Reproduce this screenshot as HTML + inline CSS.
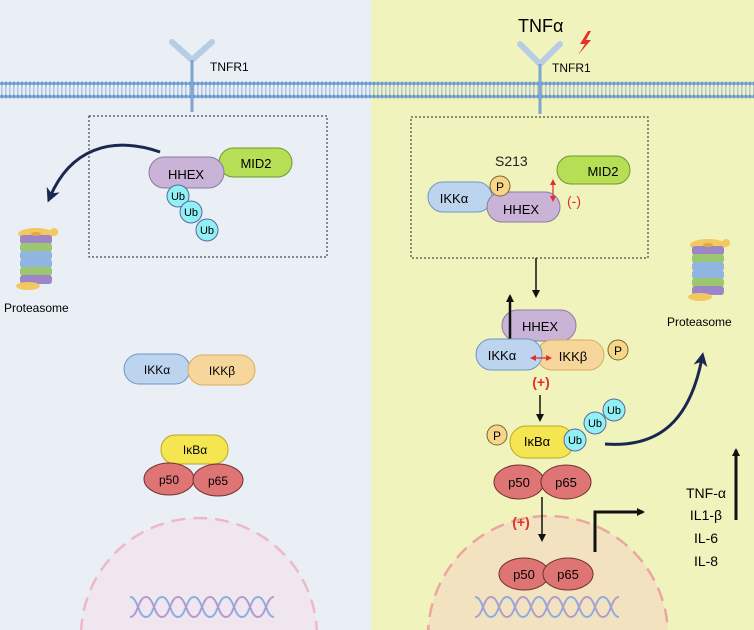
<!DOCTYPE html>
<html><head><meta charset="utf-8"><style>
html,body{margin:0;padding:0;width:754px;height:630px;overflow:hidden;background:#e9eff5}
svg{display:block;overflow:hidden}
text{font-family:"Liberation Sans",sans-serif}
</style></head><body>
<svg width="754" height="630" viewBox="0 0 754 630" xmlns="http://www.w3.org/2000/svg">
<defs>
<clipPath id="clip"><rect x="0" y="0" width="754" height="630"/></clipPath>
<pattern id="mem" x="0" y="0" width="4" height="20" patternUnits="userSpaceOnUse">
<rect x="1.2" y="4" width="1.2" height="12" fill="#9dbbdc"/>
<circle cx="2" cy="3.5" r="1.9" fill="#6a98cf"/>
<circle cx="2" cy="16.5" r="1.9" fill="#6a98cf"/>
</pattern>
<marker id="ah" markerWidth="8" markerHeight="8" refX="6" refY="4" orient="auto" markerUnits="userSpaceOnUse"><path d="M0,0 L8,4 L0,8 Z" fill="#111"/></marker>
<marker id="ahn" markerWidth="14" markerHeight="14" refX="8" refY="7" orient="auto" markerUnits="userSpaceOnUse"><path d="M0,0 L14,7 L0,14 L4,7 Z" fill="#1b2750"/></marker>
<marker id="rh" markerWidth="6" markerHeight="6" refX="4" refY="3" orient="auto-start-reverse" markerUnits="userSpaceOnUse"><path d="M0,0 L6,3 L0,6 Z" fill="#e0302a"/></marker>
<g id="prot">
<ellipse cx="22" cy="5" rx="18" ry="6" fill="#f2c860"/>
<circle cx="40" cy="3" r="4" fill="#f2c860"/>
<rect x="6" y="6" width="32" height="9" rx="3" fill="#9d85c8"/>
<rect x="6" y="14" width="32" height="9" rx="3" fill="#9cc770"/>
<rect x="6" y="22" width="32" height="9" rx="3" fill="#8fb5e0"/>
<rect x="6" y="30" width="32" height="9" rx="3" fill="#8fb5e0"/>
<rect x="6" y="38" width="32" height="9" rx="3" fill="#9cc770"/>
<rect x="6" y="46" width="32" height="9" rx="3" fill="#9d85c8"/>
<ellipse cx="22" cy="5" rx="5" ry="2" fill="#e0a840"/>
<ellipse cx="14" cy="57" rx="12" ry="4" fill="#f2c860"/>
</g>
<g id="dna" fill="none" stroke-width="2">
<path d="M0,0 C8,0 8,20 16,20 C24,20 24,0 32,0 C40,0 40,20 48,20 C56,20 56,0 64,0 C72,0 72,20 80,20 C88,20 88,0 96,0 C104,0 104,20 112,20 C120,20 120,0 128,0 C136,0 136,20 144,20" stroke="#8aaee0"/>
<path d="M0,20 C8,20 8,0 16,0 C24,0 24,20 32,20 C40,20 40,0 48,0 C56,0 56,20 64,20 C72,20 72,0 80,0 C88,0 88,20 96,20 C104,20 104,0 112,0 C120,0 120,20 128,20 C136,20 136,0 144,0" stroke="#b49ad0"/>
</g>
</defs>
<g clip-path="url(#clip)">
<rect x="0" y="0" width="371" height="630" fill="#e9eff5"/>
<rect x="371" y="0" width="383" height="630" fill="#f1f3bd"/>

<circle cx="199" cy="636" r="118" fill="#efe6ef" stroke="#efb8c6" stroke-width="2.5" stroke-dasharray="14 8"/>
<circle cx="548" cy="636" r="120" fill="#f3e2c0" stroke="#eba79f" stroke-width="2.5" stroke-dasharray="14 8"/>

<rect x="0" y="79" width="754" height="20" fill="url(#mem)"/>

<path d="M172,42 L192,60 L212,42" fill="none" stroke="#b6cde3" stroke-width="6" stroke-linecap="round" stroke-linejoin="round"/>
<line x1="192" y1="60" x2="192" y2="112" stroke="#7ea6cf" stroke-width="3"/>
<text x="210" y="71" font-size="12">TNFR1</text>

<rect x="89" y="116" width="238" height="141" fill="none" stroke="#222" stroke-width="1" stroke-dasharray="2 2"/>
<path d="M160,152 C110,135 70,150 50,197" fill="none" stroke="#1b2750" stroke-width="3" marker-end="url(#ahn)"/>
<rect x="219" y="148" width="73" height="29" rx="14.5" fill="#b6df55" stroke="#6b9a2c"/>
<text x="256" y="168" font-size="13" text-anchor="middle">MID2</text>
<rect x="149" y="157" width="75" height="31" rx="15.5" fill="#c9b3d7" stroke="#8d79a3"/>
<text x="186" y="179" font-size="13" text-anchor="middle">HHEX</text>
<g stroke="#566a9c" fill="#91eff6">
<circle cx="178" cy="196" r="11"/><circle cx="191" cy="212" r="11"/><circle cx="207" cy="230" r="11"/></g>
<g font-size="11" text-anchor="middle"><text x="178" y="200">Ub</text><text x="191" y="216">Ub</text><text x="207" y="234">Ub</text></g>
<use href="#prot" x="14" y="229"/>
<text x="4" y="312" font-size="12">Proteasome</text>

<rect x="124" y="354" width="66" height="30" rx="15" fill="#bcd4ee" stroke="#6d95c8"/>
<rect x="188" y="355" width="67" height="30" rx="15" fill="#f6d69a" stroke="#d7ae5a"/>
<text x="157" y="374" font-size="12" text-anchor="middle">IKKα</text>
<text x="222" y="375" font-size="12" text-anchor="middle">IKKβ</text>
<rect x="161" y="435" width="67" height="29" rx="14" fill="#f5e550" stroke="#b7a72a"/>
<text x="195" y="454" font-size="12" text-anchor="middle">IκBα</text>
<ellipse cx="169" cy="479" rx="25" ry="16" fill="#df7474" stroke="#6e3030"/>
<ellipse cx="218" cy="480" rx="25" ry="16" fill="#df7474" stroke="#6e3030"/>
<text x="169" y="484" font-size="12" text-anchor="middle">p50</text>
<text x="218" y="485" font-size="12" text-anchor="middle">p65</text>
<use href="#dna" x="130" y="597"/>

<text x="518" y="32" font-size="18">TNFα</text>
<path d="M588,31 L580,44 L585,44 L578,55 L591,40 L586,40 L591,31 Z" fill="#e53128"/>
<path d="M520,44 L540,64 L560,44" fill="none" stroke="#b6cde3" stroke-width="6" stroke-linecap="round" stroke-linejoin="round"/>
<line x1="540" y1="64" x2="540" y2="114" stroke="#7ea6cf" stroke-width="3"/>
<text x="552" y="72" font-size="12">TNFR1</text>

<rect x="411" y="117" width="237" height="141" fill="none" stroke="#222" stroke-width="1" stroke-dasharray="2 2"/>
<text x="495" y="166" font-size="14" font-family="Liberation Serif,serif" fill="#222">S213</text>
<rect x="428" y="182" width="64" height="30" rx="15" fill="#bcd4ee" stroke="#6d95c8"/>
<text x="454" y="203" font-size="13" text-anchor="middle">IKKα</text>
<rect x="487" y="192" width="73" height="30" rx="15" fill="#c9b3d7" stroke="#8d79a3"/>
<text x="521" y="214" font-size="13" text-anchor="middle">HHEX</text>
<circle cx="500" cy="186" r="10" fill="#f6d78a" stroke="#7a6530"/>
<text x="500" y="191" font-size="12" text-anchor="middle">P</text>
<rect x="557" y="156" width="73" height="28" rx="14" fill="#b6df55" stroke="#6b9a2c"/>
<text x="603" y="176" font-size="13" text-anchor="middle">MID2</text>
<line x1="553" y1="181" x2="553" y2="200" stroke="#e0302a" stroke-width="1.2" marker-start="url(#rh)" marker-end="url(#rh)"/>
<text x="567" y="206" font-size="14" fill="#e0302a">(-)</text>

<line x1="536" y1="258" x2="536" y2="296" stroke="#111" stroke-width="1.5" marker-end="url(#ah)"/>
<rect x="502" y="310" width="74" height="31" rx="15.5" fill="#c9b3d7" stroke="#8d79a3"/>
<text x="540" y="331" font-size="13" text-anchor="middle">HHEX</text>
<line x1="510" y1="340" x2="510" y2="296" stroke="#111" stroke-width="2.5" marker-end="url(#ah)"/>
<rect x="537" y="340" width="67" height="30" rx="15" fill="#f6d69a" stroke="#d7ae5a"/>
<rect x="476" y="339" width="66" height="31" rx="15.5" fill="#bcd4ee" stroke="#6d95c8"/>
<text x="502" y="360" font-size="13" text-anchor="middle">IKKα</text>
<text x="573" y="361" font-size="13" text-anchor="middle">IKKβ</text>
<line x1="532" y1="358" x2="550" y2="358" stroke="#e0302a" stroke-width="1.2" marker-start="url(#rh)" marker-end="url(#rh)"/>
<circle cx="618" cy="350" r="10" fill="#f6d78a" stroke="#7a6530"/>
<text x="618" y="355" font-size="12" text-anchor="middle">P</text>
<text x="541" y="387" font-size="14" fill="#e0302a" text-anchor="middle" font-weight="bold">(+)</text>
<line x1="540" y1="395" x2="540" y2="420" stroke="#111" stroke-width="1.5" marker-end="url(#ah)"/>

<path d="M605,444 C660,448 690,420 702,358" fill="none" stroke="#1b2750" stroke-width="3" marker-end="url(#ahn)"/>
<rect x="510" y="426" width="64" height="32" rx="16" fill="#f5e550" stroke="#b7a72a"/>
<text x="537" y="446" font-size="13" text-anchor="middle">IκBα</text>
<circle cx="497" cy="435" r="10" fill="#f6d78a" stroke="#7a6530"/>
<text x="497" y="440" font-size="12" text-anchor="middle">P</text>
<g stroke="#566a9c" fill="#91eff6">
<circle cx="614" cy="410" r="11"/><circle cx="595" cy="423" r="11"/><circle cx="575" cy="440" r="11"/></g>
<g font-size="11" text-anchor="middle"><text x="614" y="414">Ub</text><text x="595" y="427">Ub</text><text x="575" y="444">Ub</text></g>

<ellipse cx="519" cy="482" rx="25" ry="17" fill="#df7474" stroke="#6e3030"/>
<ellipse cx="566" cy="482" rx="25" ry="17" fill="#df7474" stroke="#6e3030"/>
<text x="519" y="487" font-size="13" text-anchor="middle">p50</text>
<text x="566" y="487" font-size="13" text-anchor="middle">p65</text>
<line x1="542" y1="497" x2="542" y2="540" stroke="#111" stroke-width="1.5" marker-end="url(#ah)"/>
<text x="521" y="527" font-size="14" fill="#e0302a" text-anchor="middle" font-weight="bold">(+)</text>
<ellipse cx="524" cy="574" rx="25" ry="16" fill="#df7474" stroke="#6e3030"/>
<ellipse cx="568" cy="574" rx="25" ry="16" fill="#df7474" stroke="#6e3030"/>
<text x="524" y="579" font-size="13" text-anchor="middle">p50</text>
<text x="568" y="579" font-size="13" text-anchor="middle">p65</text>
<use href="#dna" x="475" y="597"/>
<path d="M595,552 L595,512 L643,512" fill="none" stroke="#111" stroke-width="3" marker-end="url(#ah)"/>

<use href="#prot" x="686" y="240"/>
<text x="667" y="326" font-size="12">Proteasome</text>

<g font-size="14" text-anchor="middle"><text x="706" y="498">TNF-α</text><text x="706" y="520">IL1-β</text><text x="706" y="543">IL-6</text><text x="706" y="566">IL-8</text></g>
<line x1="736" y1="520" x2="736" y2="450" stroke="#111" stroke-width="3" marker-end="url(#ah)"/>
</g>
</svg>
</body></html>
